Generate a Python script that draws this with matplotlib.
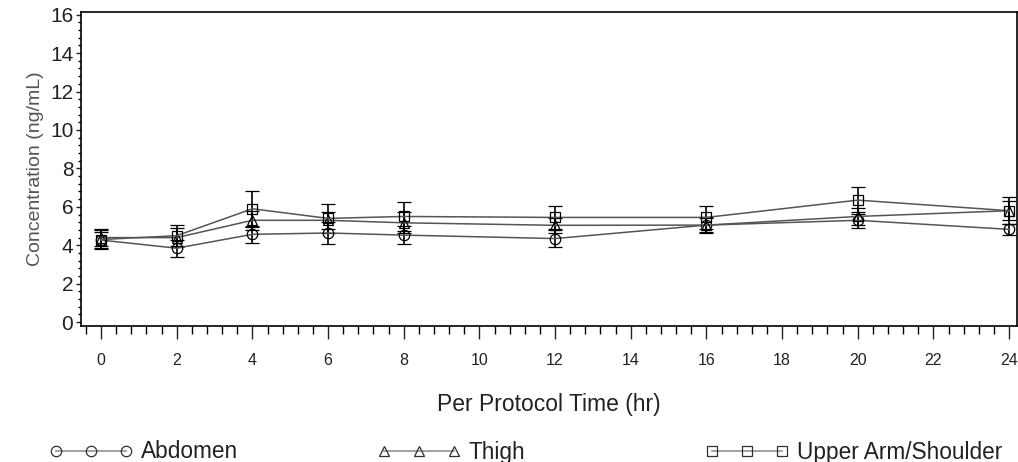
import numpy as np
import matplotlib.pyplot as plt
from matplotlib.ticker import MultipleLocator
from matplotlib.lines import Line2D

plt.rcParams['font.family'] = ['Liberation Sans', 'DejaVu Sans']

## Mean concentration (ng/mL) by injection site
time = [0, 2, 4, 6, 8, 12, 16, 20, 24]
abdomen = [4.27, 3.85, 4.57, 4.64, 4.53, 4.35, 5.05, 5.30, 4.83]
abdomen_err = [0.40, 0.45, 0.45, 0.55, 0.45, 0.43, 0.42, 0.42, 0.30]
thigh = [4.40, 4.40, 5.30, 5.30, 5.17, 5.04, 5.05, 5.50, 5.80]
thigh_err = [0.45, 0.50, 0.50, 0.45, 0.55, 0.40, 0.35, 0.45, 0.50]
upper_arm = [4.30, 4.50, 5.90, 5.40, 5.50, 5.45, 5.45, 6.35, 5.80]
upper_arm_err = [0.50, 0.55, 0.95, 0.75, 0.75, 0.60, 0.60, 0.70, 0.70]

names = ['Abdomen', 'Thigh', 'Upper Arm/Shoulder']
markers = ['o', '^', 's']
means = [abdomen, thigh, upper_arm]
errs = [abdomen_err, thigh_err, upper_arm_err]

## Figure
fig = plt.figure(figsize=(10.18, 4.62), dpi=100)
ax = fig.add_axes([81/1018, 1-326/462, (1017-81)/1018, (326-12)/462])

for m, e, mk in zip(means, errs, markers):
    ax.errorbar(time, m, yerr=e, color='#555555', lw=1.1, marker=mk, ms=7.5,
                mfc='none', mec='black', mew=0.9, ecolor='black', elinewidth=1.2,
                capsize=5, capthick=1.2)

ax.set_xlim(-0.53, 24.21)
ax.set_ylim(-0.2, 16.14)
ax.set_xticks(np.arange(0, 25, 2))
ax.set_yticks(np.arange(0, 17, 2))
ax.xaxis.set_minor_locator(MultipleLocator(0.4))
ax.yaxis.set_minor_locator(MultipleLocator(0.4))
ax.tick_params(axis='x', which='major', length=9.5, width=1, pad=10,
               labelsize=11.5, colors='#222222')
ax.tick_params(axis='x', which='minor', length=5.5, width=1)
ax.tick_params(axis='y', which='major', length=3.5, width=1, pad=2,
               labelsize=15, colors='#222222')
ax.tick_params(axis='y', which='minor', length=2, width=1)
for s in ax.spines.values():
    s.set_linewidth(1.2)

ax.set_xlabel('Per Protocol Time (hr)', fontsize=16.5, color='#222222', labelpad=18)
ax.set_ylabel('Concentration (ng/mL)', fontsize=14, color='#555555', labelpad=4)

## Legend along the bottom, one entry per site
xpos = [49/1018, 377/1018, 705/1018]
for name, mk, x in zip(names, markers, xpos):
    h = Line2D([], [], color='#909090', lw=1.2, marker=mk, ms=7.5,
               mfc='none', mec='#303030', mew=0.9)
    lg = fig.legend([h], [name], loc='center left', bbox_to_anchor=(x, 1-452/462),
                    frameon=False, numpoints=3, handlelength=3.7, handletextpad=0.35,
                    borderpad=0, borderaxespad=0, fontsize=16.3)
    for t in lg.get_texts():
        t.set_color('#222222')

fig.savefig('out.png', dpi=100)
